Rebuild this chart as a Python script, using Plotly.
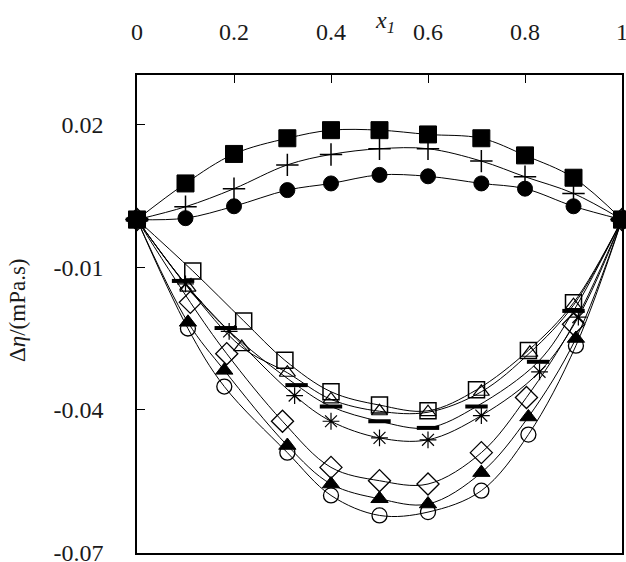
import plotly.graph_objects as go

# ---- data ----
x_upper = [0, 0.1, 0.2, 0.31, 0.4, 0.5, 0.6, 0.71, 0.8, 0.9, 1]
y_fsquare = [0, 0.0076, 0.0138, 0.0171, 0.0188, 0.0188, 0.0179, 0.0171, 0.0135, 0.0088, 0]
y_plus = [0, 0.0027, 0.0065, 0.0115, 0.0137, 0.0149, 0.0149, 0.0123, 0.0090, 0.0055, 0]
y_fcircle = [0, 0.0003, 0.0028, 0.0062, 0.0076, 0.0094, 0.0091, 0.0076, 0.0065, 0.0028, 0]

x_osquare = [0, 0.115, 0.22, 0.305, 0.4, 0.5, 0.6, 0.70, 0.807, 0.9, 1]
y_osquare = [0, -0.0108, -0.0213, -0.0296, -0.0362, -0.0390, -0.0402, -0.0358, -0.0275, -0.0175, 0]

x_otri = [0, 0.105, 0.216, 0.31, 0.4, 0.5, 0.6, 0.71, 0.81, 0.9, 1]
y_otri = [0, -0.0143, -0.0268, -0.0322, -0.0378, -0.0403, -0.0405, -0.0362, -0.0280, -0.0180, 0]

x_bar = [0, 0.095, 0.183, 0.329, 0.4, 0.5, 0.6, 0.70, 0.827, 0.9, 1]
y_bar = [0, -0.0129, -0.0228, -0.0348, -0.0393, -0.0424, -0.0438, -0.0393, -0.0299, -0.0192, 0]

x_ast = [0, 0.1, 0.19, 0.325, 0.4, 0.5, 0.6, 0.71, 0.83, 0.91, 1]
y_ast = [0, -0.0135, -0.0235, -0.0370, -0.0424, -0.0459, -0.0463, -0.0412, -0.0320, -0.0205, 0]

x_diam = [0, 0.11, 0.185, 0.30, 0.4, 0.5, 0.6, 0.71, 0.803, 0.9, 1]
y_diam = [0, -0.0174, -0.0282, -0.0424, -0.0521, -0.0549, -0.0556, -0.0490, -0.0374, -0.0220, 0]

x_ftri = [0, 0.105, 0.18, 0.31, 0.4, 0.5, 0.6, 0.71, 0.807, 0.905, 1]
y_ftri = [0, -0.0216, -0.0317, -0.0475, -0.0556, -0.0587, -0.0598, -0.0532, -0.0415, -0.0250, 0]

x_ocirc = [0, 0.105, 0.18, 0.31, 0.4, 0.5, 0.6, 0.71, 0.807, 0.905, 1]
y_ocirc = [0, -0.0229, -0.0351, -0.0490, -0.0580, -0.0622, -0.0615, -0.0570, -0.0452, -0.0265, 0]

x_ticks = [0, 0.2, 0.4, 0.6, 0.8, 1]
x_ticklabels = ["0", "0.2", "0.4", "0.6", "0.8", "1"]
y_ticks = [0.02, -0.01, -0.04, -0.07]
y_ticklabels = ["0.02", "-0.01", "-0.04", "-0.07"]

FONT = "Liberation Serif"
TXT = "#1a1a1a"

series = [
    (x_ocirc, y_ocirc, "circle-open", 15, 1.3),
    (x_ftri, y_ftri, "triangle-up", 15, 1),
    (x_diam, y_diam, "diamond-open", 17, 1.3),
    (x_ast, y_ast, "asterisk-open", 14, 1.2),
    (x_bar, y_bar, "line-ew-open", 16, 4),
    (x_otri, y_otri, "triangle-up-open", 14, 1.2),
    (x_osquare, y_osquare, "square-open", 16, 1.5),
    (x_upper, y_fcircle, "circle", 15, 1),
    (x_upper, y_plus, "cross-thin-open", 16, 1.5),
    (x_upper, y_fsquare, "square", 17, 1),
]

fig = go.Figure()
for xs, ys, sym, size, lw in series:
    fig.add_trace(go.Scatter(
        x=xs, y=ys, mode="lines+markers",
        line=dict(color="black", width=1, shape="spline", smoothing=1.0),
        marker=dict(symbol=sym, size=size, color="black",
                    line=dict(color="black", width=lw)),
        cliponaxis=False, showlegend=False,
    ))

fig.update_layout(
    width=626, height=562,
    margin=dict(l=137, r=4, t=75, b=9, autoexpand=False),
    paper_bgcolor="white", plot_bgcolor="white",
    font=dict(family=FONT, size=24, color=TXT),
    showlegend=False,
)
fig.update_xaxes(
    range=[0, 1], side="top", tickvals=x_ticks, ticktext=x_ticklabels,
    ticks="inside", ticklen=8, tickcolor="black", showgrid=False, zeroline=False,
    showline=True, linecolor="black", linewidth=1.5, mirror=True,
    ticklabelstandoff=24, automargin=False, ticklabeloverflow="allow",
)
fig.update_yaxes(
    range=[-0.0701, 0.0304], tickvals=y_ticks, ticktext=y_ticklabels,
    ticks="inside", ticklen=8, tickcolor="black", showgrid=False, zeroline=False,
    showline=True, linecolor="black", linewidth=1.5, mirror=True,
    ticklabelstandoff=27, automargin=False, ticklabeloverflow="allow",
)
fig.add_annotation(
    text="<i>x<sub>1</sub></i>", xref="paper", yref="paper",
    x=(385 - 137) / 485, y=1 + (75 - 22) / 478, xanchor="center", yanchor="middle",
    showarrow=False, font=dict(family=FONT, size=24, color=TXT),
)
fig.add_annotation(
    text="Δ<i>η</i>/(mPa.s)", xref="paper", yref="paper",
    x=-(137 - 17) / 485, y=(553 - 310) / 478, xanchor="center", yanchor="middle",
    textangle=-90, showarrow=False, font=dict(family=FONT, size=23, color=TXT),
)
fig.write_html(
    "out.html",
    config={"displayModeBar": False},
    post_script="document.body.style.margin='0';document.body.style.overflow='hidden';",
)
